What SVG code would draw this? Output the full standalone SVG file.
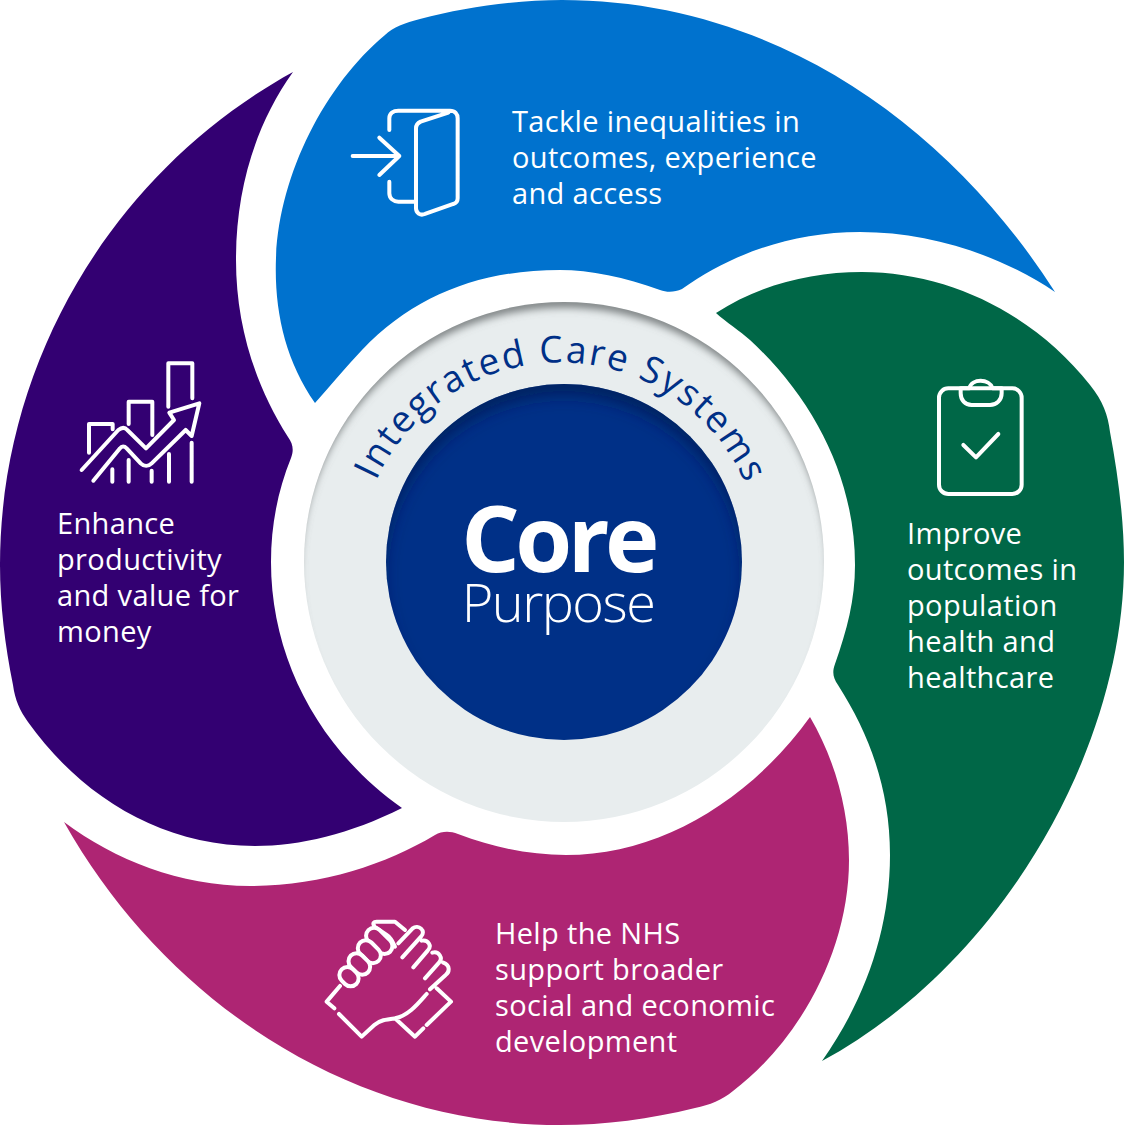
<svg xmlns="http://www.w3.org/2000/svg" width="1124" height="1125" viewBox="0 0 1124 1125">
<style>
.lbl{font-family:"Open Sans","Noto Sans",sans-serif;font-size:29px;fill:#fff;letter-spacing:.35px}
.ic{fill:none;stroke:#fff;stroke-width:12;stroke-linecap:round;stroke-linejoin:round}
.fg{fill:#ae2573}
</style>
<defs>
<filter id="b1" x="-20%" y="-20%" width="140%" height="140%"><feGaussianBlur stdDeviation="4"/></filter>
<filter id="b2" x="-20%" y="-20%" width="140%" height="140%"><feGaussianBlur stdDeviation="9"/></filter>
<clipPath id="cr"><circle cx="564" cy="562" r="260"/></clipPath>
<clipPath id="ci"><circle cx="564" cy="562" r="178"/></clipPath>
<path id="arc" d="M376 481A202 202 0 0 1 750 496"/>
</defs>
<rect width="1124" height="1125" fill="#fff"/>
<g id="blue">
<path fill="#0072ce" d="M315 403C285 360 274 310 276 258C279 175 325 85 385 35C393 27 405 23 420 19C465 7 515 0 562 0C770 0 945 120 1055 292C1000 255 930 232 860 232C790 232 730 255 682 289C675 292 668 293 660 290C625 277 590 270 560 270C480 270 415 295 362 350C346 367 330 386 315 403Z"/>
<g class="ic" transform="translate(330 90) scale(.3333)"><path d="M178 120V85C178 70 190 62 205 62H360C375 62 383 72 383 85V325C383 335 378 340 370 342L285 372C270 378 258 368 258 355V115C258 105 262 100 272 95L355 68M178 275V310C178 325 190 335 205 335H255M68 198H208M148 143L208 198L148 255"/></g>
<text class="lbl"><tspan x="512" y="132">Tackle inequalities in</tspan><tspan x="512" y="168">outcomes, experience</tspan><tspan x="512" y="204">and access</tspan></text>
</g>
<g id="green">
<path fill="#006747" d="M716 313C760 285 810 272 862 272C950 272 1035 315 1090 385C1103 401 1108 415 1110 432C1118 475 1124 520 1124 562C1124 750 1000 965 822 1061C865 1000 890 930 890 855C890 790 870 735 838 685C833 678 832 672 835 664C847 630 855 600 855 565C855 480 815 400 750 340C740 331 726 322 716 313Z"/>
<g class="ic" transform="translate(920 370) scale(.3333)"><rect x="57" y="55" width="248" height="317" rx="28"/><path d="M122 55H148C155 25 208 25 218 55H245V70C245 90 230 105 210 105H155C135 105 122 90 122 70ZM130 225L168 262L235 192"/></g>
<text class="lbl"><tspan x="907" y="544">Improve</tspan><tspan x="907" y="580">outcomes in</tspan><tspan x="907" y="616">population</tspan><tspan x="907" y="652">health and</tspan><tspan x="907" y="688">healthcare</tspan></text>
</g>
<g id="magenta">
<path fill="#ae2573" d="M810 717C835 760 849 810 849 860C849 950 800 1040 733 1091C722 1100 710 1105 695 1108C650 1119 605 1125 560 1125C360 1125 170 1010 64 822C115 860 180 886 250 886C320 886 385 865 435 835C442 831 450 831 458 834C495 848 530 855 566 855C660 855 750 800 810 717Z"/>
<g class="ic" transform="translate(315 910) scale(.3333)">
<path d="M178 48C172 40 176 35 185 35H240L270 60M178 50L215 75C230 85 235 100 240 110"/>
<rect class="fg" x="147" y="68" width="92" height="48" rx="24" transform="rotate(45 192 92)"/>
<rect class="fg" x="124" y="101" width="78" height="48" rx="24" transform="rotate(45 163 125)"/>
<rect class="fg" x="97" y="138" width="72" height="48" rx="24" transform="rotate(45 133 162)"/>
<rect class="fg" x="71" y="176" width="62" height="48" rx="24" transform="rotate(45 102 200)"/>
<path d="M75 228L35 275L58 295M72 312L140 380L178 345C195 330 215 328 240 325C280 318 310 280 335 252M240 325L300 380L325 355M335 345L408 275L365 235M250 100L293 55C310 42 335 62 318 80L262 142M320 92C340 88 352 108 338 122L295 172M352 128C372 122 385 145 372 158L330 205M385 158C405 165 405 185 392 195L345 238"/></g>
<text class="lbl"><tspan x="495" y="944">Help the NHS</tspan><tspan x="495" y="980">support broader</tspan><tspan x="495" y="1016">social and economic</tspan><tspan x="495" y="1052">development</tspan></text>
</g>
<g id="purple">
<path fill="#330072" d="M293 72C255 125 236 190 236 260C236 325 255 385 288 437C293 444 294 450 291 458C278 490 271 525 271 562C271 660 320 750 402 808C350 834 300 846 255 846C160 846 80 795 28 722C20 711 15 700 13 685C5 645 0 605 0 565C0 360 115 170 293 72Z"/>
<g class="ic" transform="translate(70 350) scale(.3333)"><path d="M57 308V222H128V238M176 222V155H247V255M295 170V40H367V145M127 358V395M176 330V395M245 362V395M297 312V395M365 278V395M35 360L145 240C155 232 165 232 172 240L228 295L312 210L298 188L388 160L365 258L347 240L245 340C235 350 222 350 212 340L170 295C163 288 155 288 150 295L70 392"/></g>
<text class="lbl"><tspan x="57" y="534">Enhance</tspan><tspan x="57" y="570">productivity</tspan><tspan x="57" y="606">and value for</tspan><tspan x="57" y="642">money</tspan></text>
</g>
<g id="ring">
<circle cx="564" cy="562" r="260" fill="#e8edee"/>
<g clip-path="url(#cr)"><circle cx="564" cy="572" r="270" fill="none" stroke="#6f7576" stroke-width="10" filter="url(#b1)"/></g>
<text font-family="'Open Sans','Noto Sans',sans-serif" font-size="37" fill="#003087" letter-spacing="2"><textPath href="#arc">Integrated Care Systems</textPath></text>
</g>
<g id="core">
<circle cx="564" cy="562" r="178" fill="#003087"/>
<g clip-path="url(#ci)"><circle cx="564" cy="576" r="192" fill="none" stroke="#001d52" stroke-width="16" filter="url(#b2)"/></g>
<text x="558" y="572" text-anchor="middle" font-family="'Open Sans','Noto Sans',sans-serif" font-size="92" font-weight="700" letter-spacing="-4.5" fill="#fff">Core</text>
<text x="558" y="622" text-anchor="middle" font-family="'Open Sans','Noto Sans',sans-serif" font-size="54" font-weight="300" letter-spacing="-1.5" fill="#fff">Purpose</text>
</g>
</svg>
